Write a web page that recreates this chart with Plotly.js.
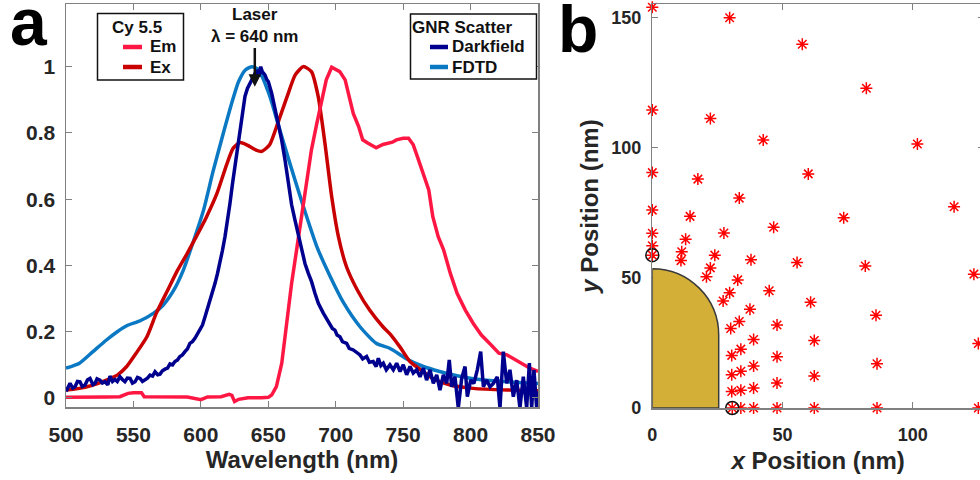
<!DOCTYPE html>
<html>
<head>
<meta charset="utf-8">
<script src="https://cdn.plot.ly/plotly-3.0.1.min.js"></script>
<style>
html,body{margin:0;padding:0;overflow:hidden;background:#fff;}
#chart{width:984px;height:480px;}
</style>
</head>
<body>
<div id="chart"></div>
<script>
// ---------- Panel a: spectra ----------
const fdtdX = [500,510,520,530,538,545,555,565,572,580,587,594,602,609,617,624,628,633,638,643,648,652,657,666,676,686,696,706,718,730,740,748,753,765,777,790,802,814,827,838,850];
const fdtdY = [0.09,0.105,0.14,0.175,0.2,0.218,0.233,0.256,0.28,0.326,0.386,0.467,0.567,0.683,0.804,0.905,0.955,0.99,1.0,0.99,0.945,0.9,0.83,0.708,0.578,0.457,0.366,0.286,0.215,0.165,0.15,0.13,0.117,0.095,0.08,0.067,0.058,0.053,0.049,0.046,0.044];

const exX = [500,510,520,530,538,545,552,560,567,575,582,590,597,604,612,619,624,629,634,641,645,651,657,664,670,676,682,687,692,697,702,708,716,725,735,741,748,755,763,772,785,802,827,850];
const exY = [0.024,0.029,0.039,0.054,0.069,0.095,0.135,0.185,0.256,0.322,0.38,0.437,0.49,0.545,0.618,0.703,0.754,0.771,0.764,0.748,0.744,0.764,0.829,0.91,0.975,1.0,0.985,0.91,0.769,0.608,0.487,0.396,0.326,0.266,0.215,0.19,0.152,0.11,0.085,0.059,0.039,0.029,0.024,0.022];

const emX = [500,510,520,530,540,546,550,556,558,570,580,590,600,605,615,621,623,625,628,635,645,650,652.5,656,660,663.6,667.3,671,674.7,678.4,682,686,689.5,693,697,700,703,707,710.5,713,717,720,724,730,735,738,742,745,750,754,757.5,761,765,769,772,776,780,785,790,796,802,808,814,821,827,833,839,844,850];
const emY = [0.002,0.002,0.001,0.003,0.004,0.014,0.016,0.016,0.004,0.003,0.004,0.003,-0.005,0.003,0.004,0.011,0.008,-0.011,-0.004,0.001,0.001,0.002,0.009,0.034,0.105,0.225,0.346,0.447,0.547,0.648,0.749,0.829,0.9,0.96,0.998,0.99,0.985,0.96,0.9,0.859,0.819,0.779,0.769,0.755,0.765,0.769,0.772,0.779,0.784,0.784,0.764,0.723,0.678,0.628,0.547,0.487,0.447,0.376,0.316,0.266,0.225,0.19,0.165,0.135,0.13,0.115,0.1,0.09,0.08];

const dfX = [500,503,505,506.7,508.5,510.4,512,514.1,516,517.8,520,521.5,523,525.2,527,528.9,531,532.6,534.5,536.3,538,540,542,543.7,545.5,547.5,549.3,551.2,553,554.9,556.7,558.6,560.4,562.3,564.2,566,568,569.7,571.5,573.4,575.3,577.1,579,580.8,582.7,584.5,586.3,588.2,590,591.9,593.7,595.6,597.5,599.4,601.2,603.1,605,606.8,608.7,610.5,612.3,614.2,616,617.9,619.8,621.6,623.4,625.3,627.2,629,630.9,632.7,634.6,636.4,638.3,640.1,641.5,643,644.4,645.5,647.5,649,650,652.5,654.9,657.4,659.9,662.4,664.8,667.3,669.8,672.2,674.7,677.2,679.7,682.1,684.6,687.1,690.8,693,695.7,697.5,699.4,701,703.1,705,708.1,710,713,715,718,720,722.9,725,727.8,730,731.6,733.5,735.3,737.5,740.2,742.7,745.2,747.7,750.1,752.6,755.1,757.5,760,762.5,765,767.4,769.9,772.4,774.9,777.3,779.8,782.3,784.2,786,788.4,790.9,793.4,795.9,797.6,800.1,802.5,805,807.5,809.5,811.9,814.4,816.9,819.8,821.8,824.3,826.8,829.2,831.7,834.2,836.6,839.1,841.6,843.6,845.3,847,849,850];
const dfY = [0.02,0.044,0.03,0.034,0.05,0.049,0.035,0.039,0.055,0.059,0.04,0.044,0.058,0.054,0.045,0.049,0.04,0.066,0.05,0.056,0.05,0.064,0.055,0.049,0.06,0.059,0.045,0.049,0.062,0.059,0.05,0.054,0.06,0.069,0.066,0.079,0.07,0.072,0.082,0.087,0.09,0.103,0.1,0.11,0.115,0.125,0.13,0.14,0.148,0.165,0.17,0.18,0.195,0.205,0.22,0.245,0.27,0.29,0.32,0.346,0.375,0.406,0.445,0.487,0.535,0.588,0.645,0.698,0.76,0.819,0.87,0.91,0.935,0.95,0.96,0.975,0.99,0.97,1.0,0.985,0.975,0.96,0.955,0.92,0.874,0.834,0.779,0.718,0.648,0.583,0.537,0.492,0.447,0.406,0.376,0.351,0.316,0.286,0.256,0.24,0.225,0.21,0.205,0.19,0.185,0.17,0.165,0.15,0.145,0.14,0.13,0.118,0.125,0.108,0.11,0.095,0.12,0.098,0.105,0.085,0.1,0.085,0.105,0.08,0.1,0.07,0.095,0.075,0.085,0.064,0.09,0.054,0.085,0.044,0.07,0.024,0.07,0.044,0.115,0.034,0.064,-0.03,0.059,0.095,0.004,0.054,0.044,0.085,0.14,0.034,0.054,0.034,0.044,0.064,-0.03,0.14,0.044,0.085,0.004,0.054,-0.03,0.064,-0.03,0.105,-0.03,0.085,-0.03,0.02];

const xTicksA = [500,550,600,650,700,750,800,850];
const yTicksA = [0,0.2,0.4,0.6,0.8,1];
const yTickTextA = ['0','0.2','0.4','0.6','0.8','1'];

// ---------- Panel b: monitor positions ----------
const starX = [0,29.7,57.6,82.2,0,22.3,42.6,101.8,0,59.9,17.5,33.4,115.9,0,14.5,73.5,46.6,0,27.5,12.8,0,11.3,24.0,0,11.0,37.9,55.6,81.8,22.3,20.8,123.5,32.8,44.9,29.7,27.2,60.8,37.5,85.9,33.4,47.9,30.1,38.9,62.2,125.2,34.0,30.5,47.9,86.3,38.9,34.0,30.5,62.2,47.9,38.9,34.0,30.5,30.7,34.0,38.9,47.9,62.2,86.3,125.2];
const starY = [153.9,149.9,139.7,122.8,114.4,111.2,102.9,101.4,90.4,89.9,87.9,80.6,77.3,76.0,73.6,73.1,69.4,67.1,67.2,64.8,62.3,60.0,58.7,58.7,56.6,56.9,55.9,54.5,53.8,50.4,51.4,49.2,45.0,44.3,41.1,40.6,37.9,35.6,33.2,31.9,30.5,26.3,25.9,24.8,22.6,20.2,19.7,17.0,16.1,14.1,12.8,12.3,9.6,7.7,6.8,6.3,0,0,0,0,0,0,0];
const circleX = [0, 30.7];
const circleY = [58.7, 0];
const xTicksB = [0, 50, 100];
const yTicksB = [0, 50, 100, 150];

// gold rod (half cross-section) dimensions, nm
const rodRadius = 25.5;
const rodStraight = 28;

// legend groups
const legend1Title = 'Cy 5.5';
const legend1Names = ['Em', 'Ex'];
const legend2Title = 'GNR Scatter';
const legend2Names = ['Darkfield', 'FDTD'];

const COL = {Em: '#FF1744', Ex: '#C80000', Darkfield: '#00008F', FDTD: '#0A78C2'};

const FONT = 'Liberation Sans, Arial, sans-serif';
const TXT = '#262626';
const AX = '#808080';
const W = 984, H = 480;
const px = v => v / W;
const py = v => 1 - v / H;

const k = 0.5523;
const rodTop = rodStraight + rodRadius;
const rodPath = `M 0 0 L ${rodRadius} 0 L ${rodRadius} ${rodStraight} ` +
  `C ${rodRadius} ${rodStraight + k*rodRadius} ${k*rodRadius} ${rodTop} 0 ${rodTop} Z`;

const LW = 3.5;
const traces = [
  {x: fdtdX, y: fdtdY, type: 'scatter', mode: 'lines', name: 'FDTD', showlegend: false,
   line: {color: COL.FDTD, width: LW, shape: 'spline', smoothing: 0.6}, xaxis: 'x', yaxis: 'y'},
  {x: exX, y: exY, type: 'scatter', mode: 'lines', name: 'Ex', showlegend: false,
   line: {color: COL.Ex, width: LW, shape: 'spline', smoothing: 0.6}, xaxis: 'x', yaxis: 'y'},
  {x: emX, y: emY, type: 'scatter', mode: 'lines', name: 'Em', showlegend: false,
   line: {color: COL.Em, width: LW}, xaxis: 'x', yaxis: 'y'},
  {x: dfX, y: dfY, type: 'scatter', mode: 'lines', name: 'Darkfield', showlegend: false,
   line: {color: COL.Darkfield, width: LW}, xaxis: 'x', yaxis: 'y'},
  {x: starX, y: starY, type: 'scatter', mode: 'markers', name: 'monitors', showlegend: false, cliponaxis: false,
   marker: {symbol: 'asterisk-open', size: 10, color: '#FF0000', line: {color: '#FF0000', width: 1.5}},
   xaxis: 'x2', yaxis: 'y2'},
  {x: circleX, y: circleY, type: 'scatter', mode: 'markers', name: 'selected', showlegend: false, cliponaxis: false,
   marker: {symbol: 'circle-open', size: 13, color: '#111', line: {color: '#111', width: 1.5}},
   xaxis: 'x2', yaxis: 'y2'}
];

const axCommon = {
  showline: true, linecolor: AX, linewidth: 1.5, mirror: 'ticks',
  ticks: 'inside', ticklen: 6, tickwidth: 1, tickcolor: AX,
  showgrid: false, zeroline: false, automargin: false,
  tickfont: {family: FONT, size: 21, color: TXT, weight: 'bold'}
};
const titleFont = {family: FONT, size: 24, color: TXT, weight: 'bold'};
const legFont = {family: FONT, size: 17, color: '#111', weight: 'bold'};

// hand-built MATLAB-style legend boxes (paper coordinates)
function legendBox(box, title, titleX, names, lineX0, lineX1, textX, rowsY, titleY) {
  const shapes = [{type: 'rect', xref: 'paper', yref: 'paper', x0: px(box[0]), x1: px(box[1]),
    y0: py(box[3]), y1: py(box[2]), fillcolor: '#fff', line: {color: '#111', width: 1.5}, layer: 'above'}];
  const anns = [{xref: 'paper', yref: 'paper', x: px(titleX), y: py(titleY), xanchor: 'center', yanchor: 'middle',
    text: title, showarrow: false, font: legFont}];
  names.forEach((n, i) => {
    shapes.push({type: 'line', xref: 'paper', yref: 'paper', x0: px(lineX0), x1: px(lineX1),
      y0: py(rowsY[i]), y1: py(rowsY[i]), line: {color: COL[n], width: 4.5}, layer: 'above'});
    anns.push({xref: 'paper', yref: 'paper', x: px(textX), y: py(rowsY[i]), xanchor: 'left', yanchor: 'middle',
      text: n, showarrow: false, font: legFont});
  });
  return {shapes, anns};
}
const L1 = legendBox([97.5, 183.5, 13.5, 80], legend1Title, 137, legend1Names, 123, 142, 148, [47, 67], 27);
const L2 = legendBox([410.5, 536.5, 14, 79], legend2Title, 462.5, legend2Names, 430, 448, 450, [47, 67], 27);

const layout = {
  width: W, height: H,
  margin: {l: 0, r: 0, t: 0, b: 0},
  paper_bgcolor: '#fff', plot_bgcolor: '#fff',
  font: {family: FONT, color: TXT},
  showlegend: false,
  xaxis: Object.assign({}, axCommon, {
    domain: [px(66), px(538)], range: [500, 850], tickvals: xTicksA,
    ticklabelstandoff: 8, anchor: 'y',
    title: {text: 'Wavelength (nm)', font: titleFont, standoff: 2}
  }),
  yaxis: Object.assign({}, axCommon, {
    domain: [py(407), py(4)], range: [-0.0272, 1.189], tickvals: yTicksA,
    ticktext: yTickTextA, ticklabelstandoff: 5, anchor: 'x'
  }),
  xaxis2: Object.assign({}, axCommon, {
    domain: [px(652.3), 1], range: [0, (W - 652.3) / 2.604], tickvals: xTicksB,
    ticklabelstandoff: 10, anchor: 'y2',
    tickfont: {family: FONT, size: 18, color: TXT, weight: 'bold'},
    title: {text: '<i>x</i> Position (nm)', font: titleFont, standoff: 8}
  }),
  yaxis2: Object.assign({}, axCommon, {
    domain: [py(408), py(4)], range: [0, 404 / 2.604], tickvals: yTicksB,
    ticklabelstandoff: 6, anchor: 'x2',
    tickfont: {family: FONT, size: 18, color: TXT, weight: 'bold'},
    title: {text: '<i>y</i> Position (nm)', font: titleFont, standoff: 6}
  }),
  shapes: [
    {type: 'path', xref: 'x2', yref: 'y2', path: rodPath, fillcolor: '#D4AF37',
     line: {color: '#3a3a3a', width: 1.5}, layer: 'above'}
  ].concat(L1.shapes, L2.shapes),
  annotations: [
    {xref: 'x', yref: 'y', x: 640, y: 0.939, axref: 'x', ayref: 'y', ax: 640, ay: 1.056,
     showarrow: true, arrowhead: 2, arrowsize: 1, arrowwidth: 2.5, arrowcolor: '#111',
     text: 'Laser<br>λ = 640 nm', yanchor: 'bottom',
     font: legFont},
    {xref: 'paper', yref: 'paper', x: px(8), y: py(22), xanchor: 'left', yanchor: 'middle',
     text: 'a', showarrow: false, font: {family: FONT, size: 66, color: '#000', weight: 'bold'}},
    {xref: 'paper', yref: 'paper', x: px(556), y: py(29), xanchor: 'left', yanchor: 'middle',
     text: 'b', showarrow: false, font: {family: FONT, size: 66, color: '#000', weight: 'bold'}}
  ].concat(L1.anns, L2.anns)
};

Plotly.newPlot('chart', traces, layout, {displayModeBar: false, staticPlot: true});
</script>
</body>
</html>
